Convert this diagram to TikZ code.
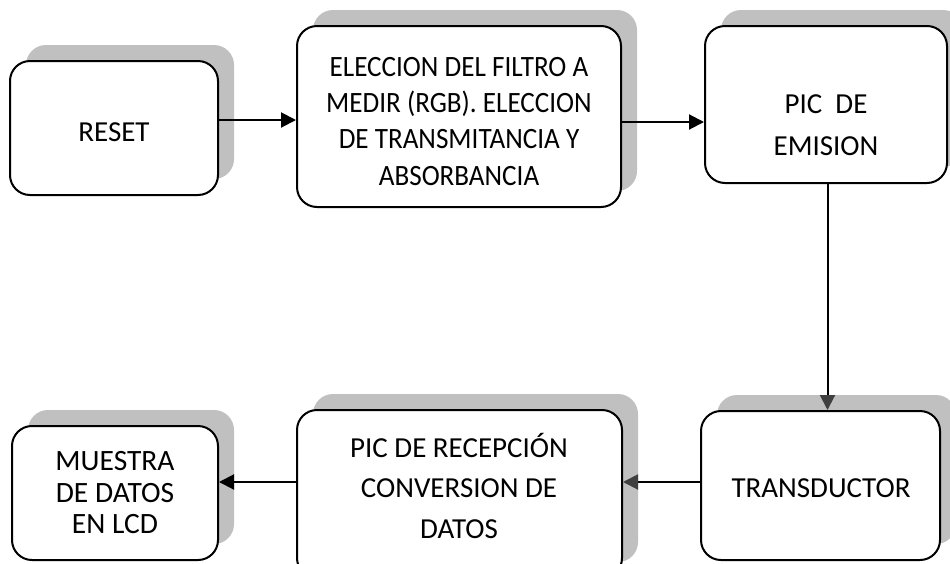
\documentclass[tikz,border=0pt]{standalone}
\usepackage{fontspec}
\setmainfont{Carlito}
\newfontfamily\narrowfont[FakeStretch=0.92]{Carlito}
\usetikzlibrary{arrows.meta,shadows}
\definecolor{shadowgray}{HTML}{C0C0C0}
\definecolor{headgray}{HTML}{404040}
\begin{document}
\begin{tikzpicture}[x=1pt,y=-1pt,
  box/.style={draw=black, line width=2pt, rounded corners=20pt, fill=white,
    drop shadow={shadow xshift=16pt,shadow yshift=16pt,fill=shadowgray,opacity=1},
    inner sep=0pt},
  txt/.style={anchor=base, align=center, inner sep=0pt},
  arr/.style={line width=2pt, -{Triangle[length=15pt,width=15pt]}},
  arrg/.style={line width=2pt, -{Triangle[length=15pt,width=15pt,color=headgray]}}]
\clip (0,0) rectangle (950,563);
\fill[white] (0,0) rectangle (950,563);
% boxes
\node[box, minimum width=208pt, minimum height=134pt] (reset) at (114,128) {};
\node[box, minimum width=324pt, minimum height=181pt] (elec) at (459,116.5) {};
\node[box, minimum width=242pt, minimum height=157pt] (emi) at (826,104.5) {};
\node[box, minimum width=239pt, minimum height=149pt] (trans) at (820.5,485.5) {};
\node[box, minimum width=325pt, minimum height=168pt] (recep) at (459.5,494) {};
\node[box, minimum width=206pt, minimum height=134pt] (muest) at (115,493) {};
% texts (anchored at the baseline of the last line)
\node[txt, font=\fontsize{29}{36}\selectfont] (resett) at (114,141) {RESET};
\node[txt, font=\narrowfont\fontsize{29.5}{36.1}\selectfont] (elect) at (459,185) {ELECCION DEL FILTRO A\\MEDIR (RGB). ELECCION\\DE TRANSMITANCIA Y\\ABSORBANCIA};
\node[txt, font=\fontsize{29}{41.7}\selectfont] (emit) at (826,155) {PIC\ \ DE\\EMISION};
\node[txt, font=\fontsize{29}{36}\selectfont] (transt) at (821,497.3) {TRANSDUCTOR};
\node[txt, font=\fontsize{29}{40.5}\selectfont] (recept) at (459,538.3) {PIC DE RECEPCIÓN\\CONVERSION DE\\DATOS};
\node[txt, font=\fontsize{29.5}{31.3}\selectfont] (muestt) at (115,533.3) {MUESTRA\\DE DATOS\\EN LCD};
% connectors
\coordinate (r1) at ([yshift=8pt]reset.east);
\draw[arr] (r1) -- (r1 -| elec.west);
\coordinate (e1) at ([yshift=-5.5pt]elec.east);
\draw[arr] (e1) -- (e1 -| emi.west);
\coordinate (m1) at ([xshift=1.5pt]emi.south);
\draw[arrg] (m1) -- (m1 |- trans.north);
\coordinate (t1) at ([yshift=3.5pt]trans.west);
\draw[arrg] (t1) -- (t1 -| recep.east);
\coordinate (p1) at ([yshift=12pt]recep.west);
\draw[arr] (p1) -- (p1 -| muest.east);
\end{tikzpicture}
\end{document}
